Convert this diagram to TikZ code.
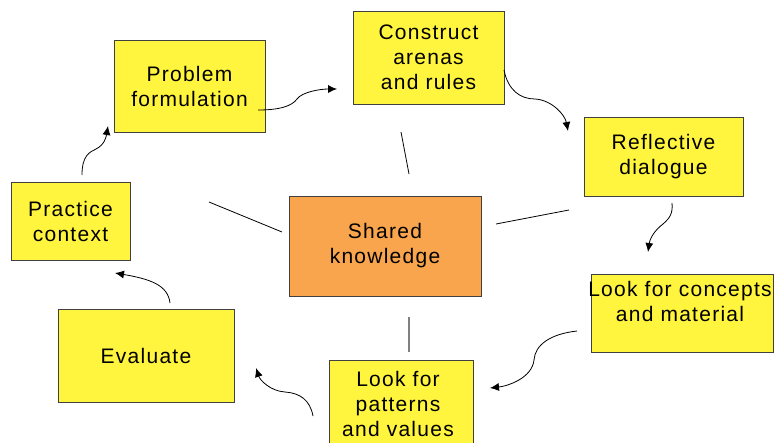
\documentclass[tikz,border=0pt]{standalone}
\usepackage{fontspec}
\setmainfont{Liberation Sans}[LetterSpace=6]
\usetikzlibrary{arrows.meta}
\definecolor{boxyellow}{RGB}{255,244,62}
\definecolor{boxorange}{RGB}{248,165,77}
\definecolor{boxedge}{RGB}{64,64,64}
\begin{document}
\begin{tikzpicture}[x=1pt,y=-1pt,
  box/.style={draw=boxedge, line width=0.9pt, fill=boxyellow, inner sep=0pt, align=center,
    font=\fontsize{21}{25}\selectfont},
  hub/.style={box, fill=boxorange},
  txt/.style={inner sep=0pt, align=center, font=\fontsize{21}{25}\selectfont},
  flow/.style={line width=0.8pt, -{Latex[length=9pt,width=8pt]}},
  spoke/.style={line width=0.8pt},
  greyspoke/.style={line width=1.3pt, draw=gray}]
\useasboundingbox (0,0) rectangle (775,442);

% boxes
\node[box, minimum width=151pt, minimum height=92pt] (prob) at (189.5,86) {Problem\\formulation};
\node[box, minimum width=151pt, minimum height=93pt] (cons) at (428.5,57.5) {Construct\\arenas\\and rules};
\node[box, minimum width=159pt, minimum height=79pt] (refl) at (663.5,156.5) {Reflective\\dialogue};
\node[box, minimum width=182pt, minimum height=78pt] (conc) at (682,313) {};
\node[txt] (concT) at (680,301) {Look for concepts\\and material};
\node[box, minimum width=144pt, minimum height=100pt] (patt) at (401,410) {};
\node[txt] (pattT) at (398,404) {Look for\\patterns\\and values};
\node[box, minimum width=176pt, minimum height=93pt] (eval) at (146,355.5) {Evaluate};
\node[box, minimum width=119pt, minimum height=78pt] (prac) at (70.5,221) {Practice\\context};
\node[hub, minimum width=192pt, minimum height=100pt] (shared) at (385,246) {Shared\\knowledge};

% free ends of the connectors
\coordinate (a1s) at (82,175);  \coordinate (a1e) at (108,126);
\coordinate (a2s) at (258,110); \coordinate (a2e) at (337,89);
\coordinate (a3s) at (504,70);  \coordinate (a3e) at (568,131);
\coordinate (a4s) at (672,203); \coordinate (a4e) at (648,252);
\coordinate (a5s) at (577,331); \coordinate (a5e) at (490,388);
\coordinate (a6s) at (313,416); \coordinate (a6e) at (256,368);
\coordinate (a7s) at (170,303); \coordinate (a7e) at (115,273);

\coordinate (s1a) at (209,202); \coordinate (s1b) at (282,232);
\coordinate (s2a) at (401,132); \coordinate (s2b) at (409,174);
\coordinate (s3a) at (496,224); \coordinate (s3b) at (569,210);
\coordinate (s4a) at (409,317); \coordinate (s4b) at (409,352);

% curved arrows
\draw[flow] (a1s) .. controls (82,155) and (90,152) .. (96,149) .. controls (104,145) and (106,138) .. (a1e);
\draw[flow] (a2s) .. controls (280,110) and (292,106) .. (297,99) .. controls (302,92) and (320,89) .. (a2e);
\draw[flow] (a3s) .. controls (508,90) and (520,99) .. (535,99) .. controls (552,100) and (565,115) .. (a3e);
\draw[flow] (a4s) .. controls (673,213) and (670,218) .. (663,224) .. controls (655,230) and (650,238) .. (a4e);
\draw[flow] (a5s) .. controls (550,334) and (535,345) .. (534,360) .. controls (532,378) and (508,386) .. (a5e);
\draw[flow] (a6s) .. controls (310,400) and (300,393) .. (285,392) .. controls (270,391) and (260,380) .. (a6e);
\draw[flow] (a7s) .. controls (168,285) and (150,279) .. (a7e);

% spokes
\draw[spoke] (s1a) -- (s1b);
\draw[spoke] (s2a) -- (s2b);
\draw[spoke] (s3a) -- (s3b);
\draw[greyspoke] (s4a) -- (s4b);
\end{tikzpicture}
\end{document}
